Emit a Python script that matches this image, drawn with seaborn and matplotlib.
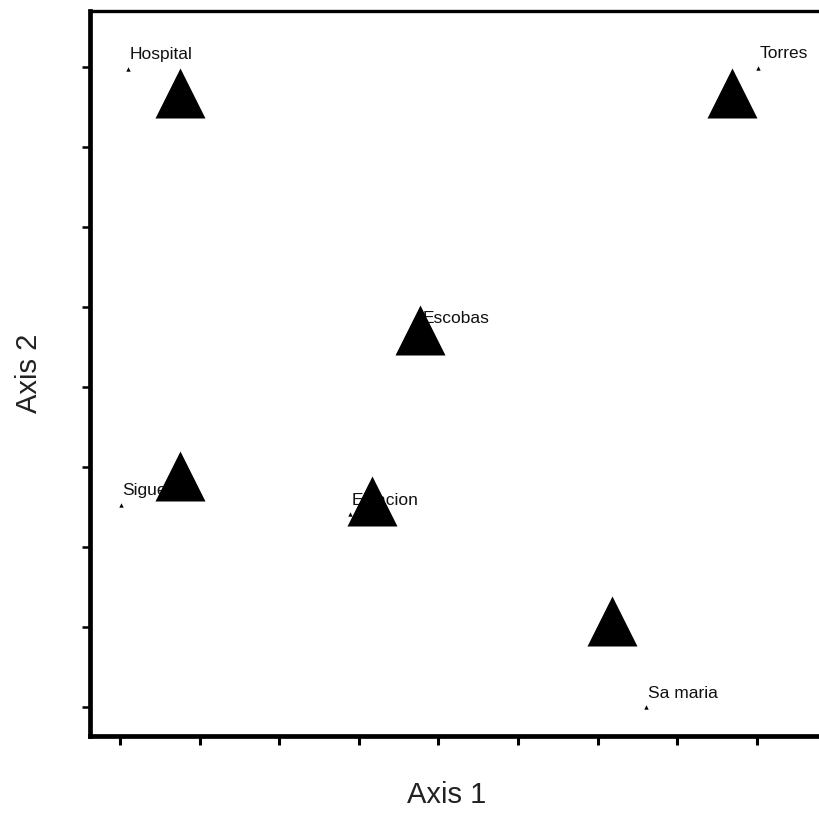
import matplotlib
matplotlib.use("Agg")
import matplotlib.pyplot as plt
import seaborn as sns
import pandas as pd

# site scores (small points with names)
site_names = ["Hospital", "Torres", "Escobas", "Siguenza", "Estacion", "Sa maria"]
site_x = [0.10, 8.02, 3.78, 0.01, 2.89, 6.61]
site_y = [7.98, 7.99, 4.68, 2.53, 2.41, 0.0]

# big triangle scores
tri_x = [0.75, 7.69, 3.77, 0.75, 3.16, 6.18]
tri_y = [7.68, 7.68, 4.71, 2.89, 2.58, 1.08]

sites = pd.DataFrame({"name": site_names, "x": site_x, "y": site_y})
tris = pd.DataFrame({"x": tri_x, "y": tri_y})

sns.set_style("white")
plt.rcParams['font.family'] = ['Liberation Sans', 'DejaVu Sans']

fig = plt.figure(figsize=(8.19, 8.15), dpi=100)
ax = fig.add_axes([0.1105, 0.0969, 0.903, 0.889])

# small site markers + their labels
sns.scatterplot(data=sites, x="x", y="y", marker="^", s=10, color="black",
                linewidth=0, ax=ax, zorder=2)
for _, r in sites.iterrows():
    ax.annotate(r["name"], (r["x"], r["y"]), xytext=(1.2, 6.8),
                textcoords="offset points", ha="left", va="baseline",
                fontsize=12.5, color="#111111", zorder=3)

# big triangles drawn on top
sns.scatterplot(data=tris, x="x", y="y", marker="^", s=1296, color="black",
                linewidth=0, ax=ax, zorder=4)

ax.set_xlim(-0.37, 8.92)
ax.set_ylim(-0.3625, 8.694)
ax.set_xticks(range(9))
ax.set_yticks(range(9))
ax.set_xticklabels([])
ax.set_yticklabels([])
ax.tick_params(axis="x", direction="out", length=6.5, width=2.2, color="black", bottom=True)
ax.tick_params(axis="y", direction="out", length=6.0, width=1.8, color="black", left=True)

for side in ["left", "bottom"]:
    ax.spines[side].set_linewidth(3.4)
    ax.spines[side].set_color("black")
ax.spines["top"].set_linewidth(2.4)
ax.spines["top"].set_color("black")
ax.spines["right"].set_visible(False)

ax.set_xlabel("Axis 1", fontsize=21, color="#222222")
ax.set_ylabel("Axis 2", fontsize=21, color="#222222")
ax.xaxis.set_label_coords(0.482, -0.062)
ax.yaxis.set_label_coords(-0.064, 0.5)

plt.savefig("out.png", dpi=100)
